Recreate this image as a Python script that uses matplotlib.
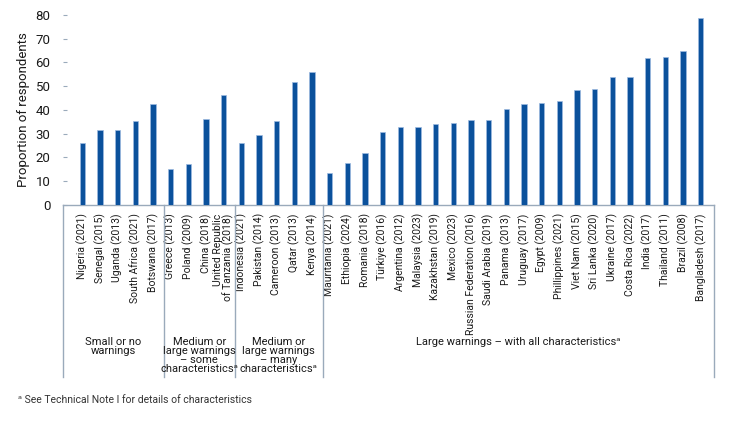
import matplotlib
matplotlib.use("Agg")
import matplotlib.pyplot as plt
import numpy as np

plt.rcParams["font.family"] = ["Roboto", "DejaVu Sans"]

# data
small_countries = ["Nigeria (2021)", "Senegal (2015)", "Uganda (2013)",
                   "South Africa (2021)", "Botswana (2017)"]
small_values = [26.2, 31.4, 31.4, 35.3, 42.4]

some_countries = ["Greece (2013)", "Poland (2009)", "China (2018)",
                  "United Republic\nof Tanzania (2018)"]
some_values = [15.3, 17.2, 36.0, 46.4]

many_countries = ["Indonesia (2021)", "Pakistan (2014)", "Cameroon (2013)",
                  "Qatar (2013)", "Kenya (2014)"]
many_values = [26.2, 29.6, 35.3, 51.6, 56.2]

all_countries = ["Mauritania (2021)", "Ethiopia (2024)", "Romania (2018)",
                 "Türkiye (2016)", "Argentina (2012)", "Malaysia (2023)",
                 "Kazakhstan (2019)", "Mexico (2023)",
                 "Russian Federation (2016)", "Saudi Arabia (2019)",
                 "Panama (2013)", "Uruguay (2017)", "Egypt (2009)",
                 "Phillippines (2021)", "Viet Nam (2015)", "Sri Lanka (2020)",
                 "Ukraine (2017)", "Costa Rica (2022)", "India (2017)",
                 "Thailand (2011)", "Brazil (2008)", "Bangladesh (2017)"]
all_values = [13.3, 17.8, 21.7, 30.8, 32.8, 32.8, 34.0, 34.6, 35.9, 35.9,
              40.5, 42.4, 43.0, 43.7, 48.3, 48.9, 54.1, 54.1, 61.9, 62.5,
              65.0, 78.7]

group_labels = ["Small or no\nwarnings",
                "Medium or\nlarge warnings\n– some\ncharacteristicsᵃ",
                "Medium or\nlarge warnings\n– many\ncharacteristicsᵃ",
                "Large warnings – with all characteristicsᵃ"]

groups = [small_countries, some_countries, many_countries, all_countries]
labels = small_countries + some_countries + many_countries + all_countries
values = small_values + some_values + many_values + all_values

bar_color = "#0b519c"
line_color = "#9aaabb"

fig = plt.figure(figsize=(7.4, 4.32), dpi=100)
ax = fig.add_axes([63 / 740, 1 - 205 / 432, 651 / 740, 190 / 432])

x = np.arange(len(labels))
ax.bar(x, values, width=0.3, color=bar_color, edgecolor="#9dbbe0",
       linewidth=0.5, zorder=3)

ax.set_ylim(0, 80)
ax.set_yticks(range(0, 81, 10))
ax.set_xlim(-1.09, len(labels) - 0.25)
ax.set_xticks(x)
ax.set_xticklabels(labels, rotation=90, va="top", ha="center",
                   multialignment="right", fontsize=7.5, linespacing=0.95,
                   color="#1a1a1a")
ax.tick_params(axis="x", length=0, pad=6)
ax.tick_params(axis="y", direction="in", length=3, color=line_color,
               labelsize=9.5, pad=9, labelcolor="#1a1a1a")

for side in ["top", "right", "left"]:
    ax.spines[side].set_visible(False)
ax.spines["bottom"].set_color(line_color)
ax.spines["bottom"].set_linewidth(1)

ax.set_ylabel("Proportion of respondents", fontsize=9.5, color="#1a1a1a")
ax.yaxis.set_label_coords(-33 / 651, 0.5)

# group boxes under the category labels
trans = ax.get_xaxis_transform()
bottom = -(377 - 205) / 190
sizes = [len(g) for g in groups]
edges = [-1.09] + list(np.cumsum(sizes)[:-1] - 0.38) + [len(labels) - 0.25]
for e in edges:
    ax.plot([e, e], [0, bottom], transform=trans, color=line_color,
            linewidth=1, clip_on=False)
for i, text in enumerate(group_labels):
    mid = (edges[i] + edges[i + 1]) / 2
    ax.text(mid, -(337 - 205) / 190, text, transform=trans, ha="center",
            va="top", fontsize=8.0, linespacing=0.88, color="#1a1a1a")

fig.text(18 / 740, 1 - 400 / 432,
         "ᵃ See Technical Note I for details of characteristics",
         fontsize=7.5, va="center", color="#333333")

fig.savefig("out.png", dpi=100)
